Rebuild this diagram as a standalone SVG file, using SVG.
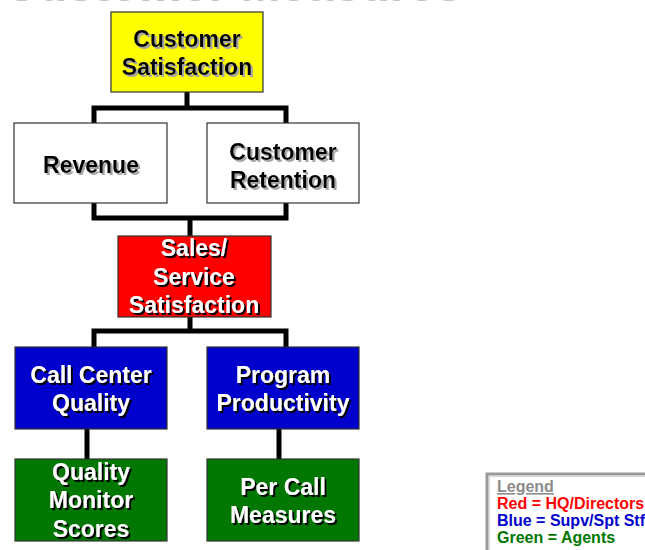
<svg xmlns="http://www.w3.org/2000/svg" width="645" height="550" viewBox="0 0 645 550">
<defs>
<filter id="shDark" x="-10%" y="-20%" width="130%" height="150%">
<feOffset in="SourceAlpha" dx="2" dy="2" result="o"/>
<feFlood flood-color="#000000"/>
<feComposite in2="o" operator="in" result="s"/>
<feMerge><feMergeNode in="s"/><feMergeNode in="SourceGraphic"/></feMerge>
</filter>
<filter id="shLight" x="-10%" y="-20%" width="130%" height="150%">
<feOffset in="SourceAlpha" dx="2" dy="2" result="o"/>
<feFlood flood-color="#a6a6a6"/>
<feComposite in2="o" operator="in" result="s"/>
<feMerge><feMergeNode in="s"/><feMergeNode in="SourceGraphic"/></feMerge>
</filter>
</defs>
<style>
.box{stroke:#333333;stroke-width:1.2}
.lbl{font-family:"Liberation Sans",Arial,sans-serif;font-weight:bold;font-size:23px;text-anchor:middle}
.dk{fill:#000000;filter:url(#shLight)}
.wt{fill:#ffffff;filter:url(#shDark)}
.conn{fill:none;stroke:#000000;stroke-width:5;stroke-linejoin:miter;stroke-linecap:square}
.leg{font-family:"Liberation Sans",Arial,sans-serif;font-weight:bold;font-size:16px}
</style>
<rect width="645" height="550" fill="#ffffff"/>
<text x="3" y="1" font-family="Liberation Sans, Arial, sans-serif" font-weight="bold" font-size="48" fill="#c4c4c4">Customer Measures</text>

<g id="connectors">
<path class="conn" d="M187 92 V108 M94 123 V108 H286 V123"/>
<path class="conn" d="M94 203 V218 H286 V203 M190 218 V236"/>
<path class="conn" d="M190 317 V331 M94 347 V331 H286 V347"/>
<path class="conn" d="M87 429 V459"/>
<path class="conn" d="M279 429 V459"/>
</g>

<g id="customer-satisfaction">
<rect class="box" x="111" y="12" width="152" height="80" fill="#ffff00"/>
<text class="lbl dk" x="187" y="47">Customer</text>
<text class="lbl dk" x="187" y="75">Satisfaction</text>
</g>

<g id="revenue">
<rect class="box" x="14" y="123" width="153" height="80" fill="#ffffff"/>
<text class="lbl dk" x="91" y="173">Revenue</text>
</g>

<g id="customer-retention">
<rect class="box" x="207" y="123" width="152" height="80" fill="#ffffff"/>
<text class="lbl dk" x="283" y="160">Customer</text>
<text class="lbl dk" x="283" y="188">Retention</text>
</g>

<g id="sales-service-satisfaction">
<rect class="box" x="118" y="236" width="153" height="81" fill="#ff0000"/>
<text class="lbl wt" x="194" y="256">Sales/</text>
<text class="lbl wt" x="194" y="285">Service</text>
<text class="lbl wt" x="194" y="313">Satisfaction</text>
</g>

<g id="call-center-quality">
<rect class="box" x="15" y="347" width="152" height="82" fill="#0000cc"/>
<text class="lbl wt" x="91" y="383">Call Center</text>
<text class="lbl wt" x="91" y="411">Quality</text>
</g>

<g id="program-productivity">
<rect class="box" x="207" y="347" width="152" height="82" fill="#0000cc"/>
<text class="lbl wt" x="283" y="383">Program</text>
<text class="lbl wt" x="283" y="411">Productivity</text>
</g>

<g id="quality-monitor-scores">
<rect class="box" x="15" y="459" width="152" height="82" fill="#007700"/>
<text class="lbl wt" x="91" y="480">Quality</text>
<text class="lbl wt" x="91" y="508">Monitor</text>
<text class="lbl wt" x="91" y="537">Scores</text>
</g>

<g id="per-call-measures">
<rect class="box" x="207" y="459" width="152" height="82" fill="#007700"/>
<text class="lbl wt" x="283" y="495">Per Call</text>
<text class="lbl wt" x="283" y="523">Measures</text>
</g>

<g id="legend">
<rect x="487" y="474" width="170" height="90" fill="#ffffff" stroke="#9a9a9a" stroke-width="3"/>
<rect x="489.5" y="476.5" width="170" height="90" fill="none" stroke="#d8d8d8" stroke-width="1"/>
<text class="leg" x="497" y="492" fill="#8c8c8c" text-decoration="underline">Legend</text>
<text class="leg" x="497" y="509" fill="#ff0000">Red = HQ/Directors</text>
<text class="leg" x="497" y="526" fill="#0000cc">Blue = Supv/Spt Stf</text>
<text class="leg" x="497" y="543" fill="#007700">Green = Agents</text>
</g>
</svg>
